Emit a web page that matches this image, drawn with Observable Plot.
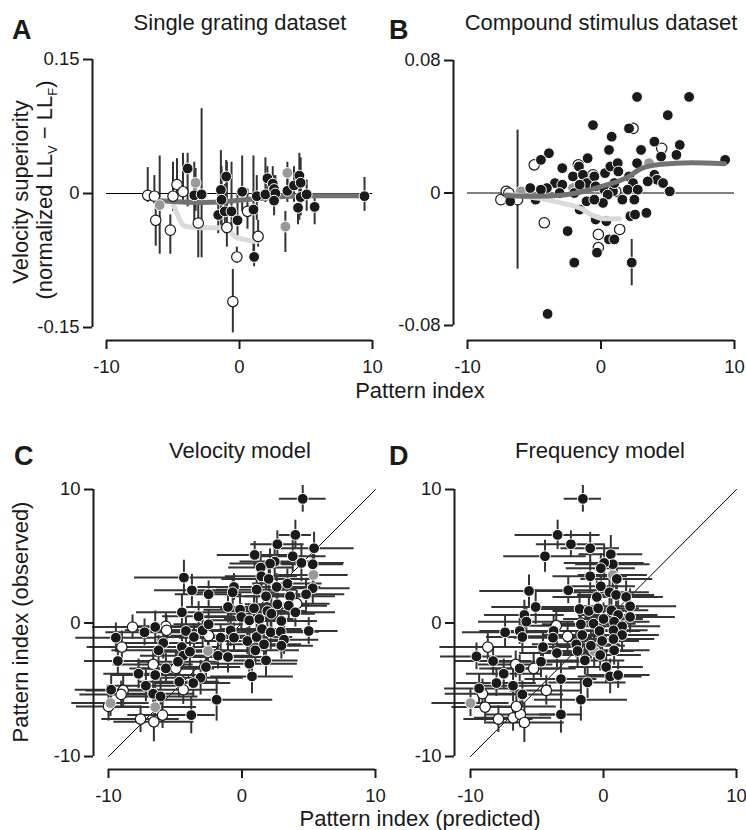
<!DOCTYPE html>
<html><head><meta charset="utf-8">
<script src="https://cdn.jsdelivr.net/npm/d3@7"></script>
<script src="https://cdn.jsdelivr.net/npm/@observablehq/plot@0.6"></script>
<style>
body{margin:0;background:#fff;}
#fig{position:relative;width:746px;height:830px;font-family:"Liberation Sans",Arial,Helvetica,sans-serif;color:#1a1a1a;overflow:hidden;background:#fff}
#fig svg.panel{position:absolute}
#labels{position:absolute;left:0;top:0;pointer-events:none}
#labels text{font-family:"Liberation Sans",Arial,Helvetica,sans-serif;fill:#1a1a1a}
</style></head><body>
<div id="fig">
<svg id="labels" width="746" height="830">
  <text x="12" y="39" font-size="27" font-weight="bold">A</text>
  <text x="240" y="30" font-size="22" text-anchor="middle">Single grating dataset</text>
  <text x="389" y="39" font-size="27" font-weight="bold">B</text>
  <text x="601" y="30" font-size="22" text-anchor="middle">Compound stimulus dataset</text>
  <text x="14" y="465" font-size="27" font-weight="bold">C</text>
  <text x="240" y="458" font-size="22" text-anchor="middle">Velocity model</text>
  <text x="389" y="465" font-size="27" font-weight="bold">D</text>
  <text x="600" y="458" font-size="22" text-anchor="middle">Frequency model</text>
  <text x="420" y="398" font-size="22" text-anchor="middle">Pattern index</text>
  <text x="420" y="826" font-size="22" text-anchor="middle">Pattern index (predicted)</text>
  <text transform="translate(28,192) rotate(-90)" font-size="22" text-anchor="middle">Velocity superiority</text>
  <text transform="translate(52,190) rotate(-90)" font-size="22" text-anchor="middle">(normalized LL<tspan font-size="13" dy="5">V</tspan><tspan dy="-5"> − LL</tspan><tspan font-size="13" dy="5">F</tspan><tspan dy="-5">)</tspan></text>
  <text transform="translate(28,622) rotate(-90)" font-size="22" text-anchor="middle">Pattern index (observed)</text>
</svg>
</div>
<script>
// ---------- Tick values ----------
const patternTicks = [-10, 0, 10];
const aYTicks = [-0.15, 0, 0.15];
const bYTicks = [-0.08, 0, 0.08];
const identityLine = [-10, 10];

// ---------- Panel A: [pattern index, superiority, err low, err high] ----------
const aOpen = [
  [-6.9,-0.002,-0.010,0.029],[-6.4,-0.003,-0.012,0.020],[-6.3,-0.030,-0.059,-0.005],
  [-5.2,-0.041,-0.068,-0.024],[-5.0,-0.003,-0.020,0.035],[-4.7,0.010,-0.005,0.039],
  [-4.25,0.002,-0.008,0.045],[-3.1,-0.033,-0.072,-0.010],[-0.95,-0.038,-0.060,0.035],
  [-0.2,-0.071,-0.078,-0.060],[-0.5,-0.121,-0.156,-0.085],[1.4,-0.048,-0.060,-0.030],
  [0.6,-0.020,-0.040,0.005]
];
const aGray = [
  [-6.0,-0.013,-0.068,0.042],[-3.3,0.012,-0.020,0.028],[3.6,0.023,0.005,0.035],[3.45,-0.037,-0.066,-0.020]
];
const aFilled = [
  [-3.9,0.028,-0.015,0.045],[-3.4,-0.002,-0.030,0.035],[-2.85,-0.001,-0.072,0.095],
  [-1.0,0.019,-0.010,0.037],[-1.4,0.004,-0.035,0.048],[-1.35,-0.007,-0.040,0.030],
  [-1.6,-0.024,-0.045,0.000],[-1.1,-0.020,-0.045,0.010],[-0.6,-0.020,-0.040,0.035],
  [-0.15,-0.030,-0.050,0.000],[0.2,0.002,-0.020,0.042],[1.05,-0.018,-0.075,0.042],
  [1.1,-0.071,-0.082,-0.055],[1.3,-0.003,-0.030,0.020],[1.95,-0.001,-0.010,0.040],
  [2.1,0.017,0.000,0.030],[2.5,0.011,-0.005,0.030],[2.6,0.005,-0.010,0.020],
  [2.7,0.000,-0.012,0.020],[2.6,-0.008,-0.025,0.005],[3.6,0.003,-0.010,0.020],
  [4.1,0.009,-0.010,0.030],[4.5,0.020,-0.030,0.045],[4.6,0.012,-0.025,0.040],
  [4.4,-0.016,-0.035,0.000],[4.6,-0.004,-0.020,0.015],[5.05,-0.001,-0.020,0.015],
  [5.65,-0.015,-0.035,-0.003],[9.4,-0.003,-0.020,0.018]
];
const aTrendDarkX = [-6.8,-5.95,-5,-2.95,-1,0,2.05,4.55,7,9.4];
const aTrendDarkY = [-0.004,-0.008,-0.009,-0.010,-0.009,-0.0075,-0.005,-0.0026,-0.0024,-0.0024];
const aTrendLightX = [-6.58,-5.2,-4.83,-4.45,-4.08,-2.95,-1.45,-0.83,-0.33,0.43,1.3];
const aTrendLightY = [-0.0064,-0.0082,-0.0176,-0.0307,-0.0367,-0.0382,-0.0382,-0.0412,-0.0484,-0.0517,-0.054];

// ---------- Panel B: [pattern index, superiority] ----------
const bOpen = [
  [-7.5,-0.004],[-7.1,0.001],[-6.9,0.000],[-6.25,-0.004],[-5.0,0.017],[-4.25,-0.018],
  [-0.2,-0.025],[-0.2,-0.033],[1.4,-0.022],[2.4,0.039],[4.55,0.027],[-0.6,0.011],[-1.7,0.017],[1.1,0.001]
];
const bGray = [[-6.0,0.001],[-2.1,0.003],[3.6,0.018]];
const bFilled = [
  [2.7,0.058],[6.6,0.058],[5.0,0.047],[-0.6,0.041],[2.1,0.039],[0.8,0.034],[4.0,0.031],
  [-3.9,0.024],[-4.5,0.020],[0.6,0.026],[3.0,0.026],[4.5,0.022],[5.9,0.029],[5.65,0.023],
  [9.3,0.020],[-1.0,0.021],[-1.65,0.016],[-2.9,0.015],[-2.1,0.010],[-1.35,0.011],[-1.05,0.006],
  [-0.5,0.010],[0.3,0.012],[0.7,0.016],[1.25,0.018],[1.3,0.013],[2.7,0.018],[2.1,0.010],
  [2.4,0.006],[4.0,0.011],[4.2,0.008],[4.65,0.006],[3.5,0.007],[5.15,0.001],[-3.45,0.006],
  [-4.05,0.003],[-5.3,0.003],[-4.5,0.002],[-2.9,0.005],[-3.1,0.0],[-2.0,0.0],[-1.6,0.005],
  [-0.4,0.004],[0.25,0.002],[0.9,0.001],[0.5,-0.001],[1.0,0.006],[2.0,0.002],[2.75,0.002],
  [2.5,-0.004],[1.6,-0.004],[0.15,-0.006],[-1.08,-0.005],[-0.5,-0.004],[-4.9,-0.004],
  [-6.8,-0.005],[-1.6,-0.010],[-0.4,-0.016],[0.4,-0.017],[2.2,-0.014],[2.55,-0.013],
  [3.4,-0.012],[-2.5,-0.023],[0.6,-0.028],[1.0,-0.028],[-0.3,-0.036],[-2.0,-0.042],
  [2.3,-0.042],[-4.0,-0.073]
];
const bErr = [[-6.25,-0.046,0.038],[2.3,-0.056,-0.028]];
const bTrendDarkX = [-7.1,-5.0,-3.0,-1.0,0.5,2.0,3.0,4.5,6.75,9.25];
const bTrendDarkY = [-0.0014,-0.002,-0.0014,0.0016,0.005,0.0096,0.0147,0.0173,0.0183,0.0177];
const bTrendLightX = [-7.0,-4.5,-3.0,-1.5,-0.63,0.25,1.38];
const bTrendLightY = [-0.0008,-0.0034,-0.006,-0.0094,-0.0135,-0.0155,-0.0155];

// ---------- Panel C (velocity model): [predicted, observed, x err, y err] ----------
const cFilled = [
  [4.55,9.3,1.75,1.0],[4.0,6.6,1.2,1.1],[2.65,5.9,2.0,1.0],[5.4,5.6,3.0,1.2],[0.95,5.1,2.8,1.0],
  [3.8,5.0,2.5,1.2],[4.45,4.5,3.2,1.4],[5.3,4.4,2.3,1.0],[2.45,4.6,2.6,1.3],[2.1,4.45,3.0,1.1],
  [1.4,4.15,2.4,1.2],[-4.35,3.4,3.7,1.3],[1.45,3.5,2.7,1.0],[2.0,3.3,3.5,1.2],[3.4,2.95,2.6,1.1],
  [2.6,2.7,3.3,1.0],[5.3,2.6,2.8,1.2],[-3.75,2.45,2.8,1.2],[-2.5,2.15,2.5,1.0],[-0.6,2.7,2.7,1.0],
  [-0.7,2.3,3.3,1.2],[1.1,2.5,3.0,1.1],[1.8,2.0,2.6,1.4],[3.6,2.0,3.4,1.0],[4.8,2.15,2.9,1.2],
  [2.65,1.4,2.4,1.3],[3.5,1.3,2.9,1.0],[-1.05,1.2,3.1,1.2],[-0.15,1.0,2.7,1.1],[0.9,1.1,2.5,1.0],
  [1.9,0.9,3.0,1.2],[-4.5,0.8,3.4,1.3],[-3.25,0.5,2.7,1.1],[-0.05,0.45,2.9,1.0],[0.55,0.2,3.1,1.2],
  [1.3,0.3,2.6,1.1],[2.2,0.7,3.3,1.2],[2.95,0.15,2.7,1.0],[4.0,0.8,3.0,1.1],[-6.5,-0.3,3.8,1.2],
  [-7.3,-0.7,2.9,1.0],[-9.45,-1.1,3.0,1.1],[-4.2,-0.6,3.3,1.2],[-3.6,-1.05,2.8,1.0],[-2.95,-0.55,3.0,1.3],
  [-2.5,-0.1,2.6,1.1],[-1.6,-1.1,3.1,1.0],[-0.85,-0.55,2.9,1.2],[-0.6,-1.1,2.6,1.1],[0.4,-1.35,3.2,1.0],
  [1.1,-1.05,2.7,1.2],[1.5,-0.45,3.0,1.1],[2.15,-0.7,2.5,1.3],[2.9,-0.65,2.9,1.0],[3.15,-1.25,2.6,1.1],
  [2.95,-1.7,2.4,1.0],[5.0,-0.6,2.2,1.0],[-5.9,-1.5,3.0,1.2],[-6.25,-2.05,3.5,1.1],[-4.5,-1.8,2.8,1.3],
  [-4.4,-2.45,3.2,1.0],[-3.9,-2.15,2.7,1.2],[-4.8,-2.9,3.0,1.1],[-1.8,-2.45,2.9,1.0],[-1.05,-2.55,3.1,1.2],
  [-2.7,-3.3,2.6,1.1],[-3.1,-4.1,3.2,1.3],[-3.65,-4.5,2.8,1.0],[-4.7,-4.4,3.0,1.2],[-5.7,-3.4,2.7,1.1],
  [-6.5,-3.9,3.3,1.0],[-7.2,-4.7,2.9,1.2],[-7.75,-3.8,2.6,1.1],[-6.65,-5.3,3.1,1.0],[-6.1,-5.5,2.8,1.3],
  [-9.3,-2.85,2.5,1.0],[-9.8,-5.0,2.7,1.1],[-1.9,-5.75,4.2,1.6],[-3.8,-6.9,1.8,1.4],[0.55,-3.05,3.6,1.2],
  [0.75,-4.0,3.1,1.3],[1.8,-2.8,2.4,1.2],[1.0,-2.05,3.3,1.0],[1.65,-1.6,2.8,1.1]
];
const cOpen = [
  [-8.2,-0.3,3.0,0.9],[-5.7,-0.25,2.7,1.0],[-5.65,-0.55,3.1,1.1],[-9.0,-1.8,2.6,1.2],[-6.65,-3.1,3.0,1.0],
  [-4.95,-3.4,2.9,1.3],[-4.4,-5.0,2.6,1.1],[-8.9,-5.05,2.8,1.2],[-9.05,-5.35,3.1,1.0],[-10.0,-6.25,2.4,1.1],
  [-7.6,-7.2,2.9,1.0],[-6.6,-7.4,3.0,1.5],[-5.95,-6.9,2.6,1.0],[-2.5,-0.95,2.8,1.1],[4.1,1.45,2.5,1.0]
];
const cGray = [[5.35,3.6,2.6,1.1],[-2.55,-2.1,3.0,1.2],[-9.85,-6.0,2.9,1.0],[-6.5,-6.3,3.1,1.2]];

// ---------- Panel D (frequency model): [predicted, observed, x err, y err] ----------
const dFilled = [
  [-1.55,9.3,1.4,1.0],[-3.45,6.6,3.2,1.1],[-2.45,5.9,2.6,1.0],[-1.0,5.6,2.2,1.2],[-4.4,5.0,3.1,1.2],
  [0.55,5.15,2.4,1.4],[0.7,4.4,2.8,1.0],[0.05,4.5,3.0,1.3],[-0.2,4.1,2.6,1.1],[-1.0,3.5,2.8,1.2],
  [1.0,3.3,2.7,1.0],[-5.6,2.4,3.7,1.2],[-2.65,2.45,3.0,1.0],[-0.5,1.95,3.3,1.2],[-0.2,2.75,2.6,1.1],
  [0.45,2.3,3.0,1.4],[0.95,2.1,2.9,1.0],[1.7,1.95,2.8,1.2],[2.0,1.25,3.5,1.3],[-5.1,1.2,3.3,1.3],
  [-1.8,1.05,3.0,1.2],[-1.1,0.9,2.7,1.1],[-0.4,1.1,3.1,1.0],[0.6,0.95,2.8,1.2],[1.1,0.6,3.0,1.1],
  [2.0,0.45,3.4,1.2],[-5.95,0.6,3.0,1.1],[-5.8,0.1,3.6,1.0],[-7.4,-0.7,3.2,1.2],[-6.3,-0.6,3.0,1.0],
  [-6.1,-1.05,2.7,1.3],[-1.7,-0.1,2.9,1.1],[-0.75,-0.05,3.2,1.0],[0.0,0.3,3.0,1.2],[0.8,0.1,2.7,1.1],
  [1.4,-0.25,2.9,1.0],[-0.3,-0.6,3.1,1.2],[0.75,-0.55,2.6,1.1],[1.4,-0.9,2.8,1.2],[-3.75,-0.6,3.3,1.1],
  [-3.8,-1.1,2.9,1.0],[-1.6,-0.9,3.0,1.3],[-0.1,-1.35,2.8,1.1],[0.75,-1.2,3.1,1.0],[-4.55,-1.8,3.0,1.2],
  [-3.5,-2.25,2.8,1.1],[-2.05,-1.6,3.3,1.0],[-1.95,-2.1,2.9,1.2],[-1.4,-2.8,3.0,1.1],[-0.95,-1.7,2.6,1.0],
  [-0.25,-2.4,3.1,1.2],[0.8,-2.05,2.7,1.1],[0.2,-3.3,2.8,1.2],[0.5,-4.0,2.4,1.3],[1.1,-3.9,2.4,1.0],
  [-9.55,-2.5,2.7,1.0],[-8.3,-2.85,2.9,1.1],[-6.3,-3.4,3.0,1.0],[-4.7,-2.9,3.2,1.2],[-7.5,-3.8,2.8,1.1],
  [-8.05,-4.5,3.0,1.0],[-6.8,-4.7,2.9,1.2],[-9.35,-4.9,2.6,1.1],[-6.1,-5.35,3.1,1.0],[-3.2,-4.2,2.7,1.3],
  [-1.2,-4.45,2.9,1.2],[-1.7,-5.75,3.5,1.6],[-3.2,-6.85,1.6,1.4]
];
const dOpen = [
  [-8.7,-1.8,3.6,1.0],[-3.55,-0.2,2.8,1.0],[-2.7,-1.0,3.0,1.1],[-5.25,-3.4,3.2,1.2],[-6.6,-3.1,2.8,1.0],
  [-4.3,-5.05,2.7,1.1],[-8.9,-6.3,2.5,1.1],[-7.9,-7.2,2.6,1.0],[-6.8,-7.1,2.9,1.0],[-6.25,-6.85,2.6,1.0],
  [-5.95,-7.45,3.0,1.5],[-6.55,-6.25,3.0,1.2],[-9.1,-5.3,2.8,1.1]
];
const dGray = [[0.7,3.6,2.6,1.1],[-0.7,-2.1,3.0,1.2],[-10.0,-6.0,2.9,1.0]];

// ---------- Drawing ----------
const FONT = '"Liberation Sans", Arial, Helvetica, sans-serif';
const INK = "#1a1a1a", BAR = "#333333", GRAY = "#999999", DARKTREND = "#727272", LIGHTTREND = "#dadada";
const fig = document.getElementById("fig");
const labels = document.getElementById("labels");

function dots(rows, kind) {
  if (kind === "open") return Plot.dot(rows, {x: d => d[0], y: d => d[1], r: 5.2, fill: "white", stroke: INK, strokeWidth: 1.2});
  if (kind === "gray") return Plot.dot(rows, {x: d => d[0], y: d => d[1], r: 5.4, fill: GRAY, stroke: "white", strokeWidth: 1});
  return Plot.dot(rows, {x: d => d[0], y: d => d[1], r: 5.4, fill: INK, stroke: "white", strokeWidth: 1});
}
function trend(xs, ys, color) {
  return Plot.line(xs.map((x, i) => [x, ys[i]]), {x: d => d[0], y: d => d[1], stroke: color, strokeWidth: 5, curve: "monotone-x", strokeLinecap: "round"});
}
function crossBars(rows) {
  return [
    Plot.ruleY(rows, {y: d => d[1], x1: d => d[0] - d[2], x2: d => d[0] + d[2], stroke: BAR, strokeWidth: 2}),
    Plot.ruleX(rows, {x: d => d[0], y1: d => d[1] - d[3], y2: d => d[1] + d[3], stroke: BAR, strokeWidth: 2})
  ];
}
function panel(o) {
  const xd = [patternTicks[0], patternTicks[patternTicks.length - 1]];
  const yd = [o.yTicks[0], o.yTicks[o.yTicks.length - 1]];
  const p = Plot.plot({
    width: o.width, height: o.height,
    marginLeft: o.mL, marginRight: o.mR, marginTop: o.mT, marginBottom: o.mB,
    x: {domain: xd}, y: {domain: yd},
    style: {background: "none", overflow: "visible", fontFamily: FONT, color: INK},
    marks: [
      ...o.marks,
      Plot.axisY({ticks: o.yTicks, anchor: "left", tickSize: 9, tickPadding: 4, dx: o.dx, fontSize: 18.5, strokeWidth: 2, label: null, tickFormat: d => String(d)}),
      Plot.axisX({ticks: patternTicks, anchor: "bottom", tickSize: 9, tickPadding: 10, dy: o.dy, fontSize: 18.5, strokeWidth: 2, label: null, tickFormat: d => String(d)}),
      Plot.ruleX([xd[0]], {y1: yd[0], y2: yd[1], dx: o.dx, stroke: INK, strokeWidth: 2}),
      Plot.ruleY([yd[0]], {x1: xd[0], x2: xd[1], dy: o.dy, stroke: INK, strokeWidth: 2})
    ]
  });
  p.classList.add("panel");
  p.style.left = o.left + "px";
  p.style.top = o.top + "px";
  fig.insertBefore(p, labels);
}

// Panel A
panel({
  left: 0, top: 0, width: 380, height: 380, mL: 106, mR: 8, mT: 59, mB: 53, dx: -14, dy: 13,
  yTicks: aYTicks,
  marks: [
    Plot.ruleY([0], {x1: -10, x2: 10, stroke: "#000", strokeWidth: 1}),
    ...[aOpen, aGray, aFilled].map(rows => Plot.ruleX(rows, {x: d => d[0], y1: d => d[2], y2: d => d[3], stroke: BAR, strokeWidth: 2})),
    trend(aTrendLightX, aTrendLightY, LIGHTTREND),
    trend(aTrendDarkX, aTrendDarkY, DARKTREND),
    dots(aOpen, "open"), dots(aGray, "gray"), dots(aFilled, "filled")
  ]
});

// Panel B
panel({
  left: 373, top: 0, width: 373, height: 380, mL: 94, mR: 12, mT: 60, mB: 55, dx: -14, dy: 15,
  yTicks: bYTicks,
  marks: [
    Plot.ruleY([0], {x1: -10, x2: 10, stroke: "#000", strokeWidth: 1}),
    Plot.ruleX(bErr, {x: d => d[0], y1: d => d[1], y2: d => d[2], stroke: BAR, strokeWidth: 2}),
    dots(bOpen, "open"), dots(bGray, "gray"), dots(bFilled, "filled"),
    trend(bTrendLightX, bTrendLightY, LIGHTTREND),
    trend(bTrendDarkX, bTrendDarkY, DARKTREND)
  ]
});

// Panel C
panel({
  left: 0, top: 380, width: 390, height: 450, mL: 108, mR: 15, mT: 109, mB: 74, dx: -15, dy: 13,
  yTicks: patternTicks,
  marks: [
    Plot.line(identityLine, {x: d => d, y: d => d, stroke: "#000", strokeWidth: 1}),
    ...crossBars(cOpen), ...crossBars(cGray), ...crossBars(cFilled),
    dots(cOpen, "open"), dots(cGray, "gray"), dots(cFilled, "filled")
  ]
});

// Panel D
panel({
  left: 373, top: 380, width: 373, height: 450, mL: 97, mR: 10, mT: 109, mB: 74, dx: -16, dy: 13,
  yTicks: patternTicks,
  marks: [
    Plot.line(identityLine, {x: d => d, y: d => d, stroke: "#000", strokeWidth: 1}),
    ...crossBars(dOpen), ...crossBars(dGray), ...crossBars(dFilled),
    dots(dOpen, "open"), dots(dGray, "gray"), dots(dFilled, "filled")
  ]
});
</script>
</body></html>
